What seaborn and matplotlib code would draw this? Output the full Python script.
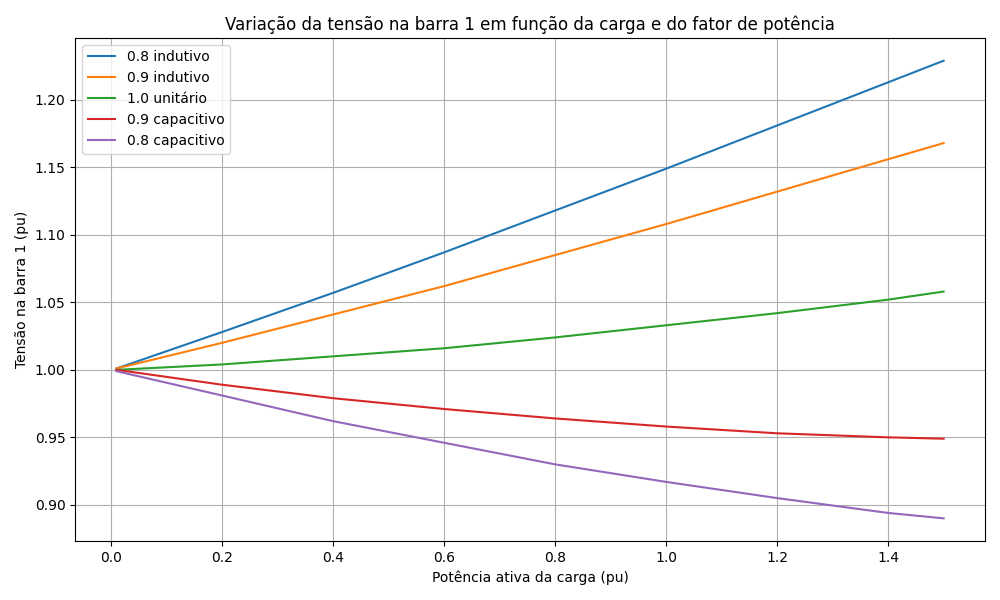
import pandas as pd
import matplotlib
matplotlib.use("Agg")
import matplotlib.pyplot as plt
import seaborn as sns

# values
carga = [0.01, 0.2, 0.4, 0.6, 0.8, 1.0, 1.2, 1.4, 1.5]
ind_08 = [1.001, 1.028, 1.057, 1.087, 1.118, 1.149, 1.181, 1.213, 1.229]
ind_09 = [1.001, 1.020, 1.041, 1.062, 1.085, 1.108, 1.132, 1.156, 1.168]
unit_10 = [1.000, 1.004, 1.010, 1.016, 1.024, 1.033, 1.042, 1.052, 1.058]
cap_09 = [1.000, 0.989, 0.979, 0.971, 0.964, 0.958, 0.953, 0.950, 0.949]
cap_08 = [0.999, 0.981, 0.962, 0.946, 0.930, 0.917, 0.905, 0.894, 0.890]

series = {
    "0.8 indutivo": ind_08,
    "0.9 indutivo": ind_09,
    "1.0 unitário": unit_10,
    "0.9 capacitivo": cap_09,
    "0.8 capacitivo": cap_08,
}

rows = []
for name, vals in series.items():
    for x, v in zip(carga, vals):
        rows.append({"P": x, "V": v, "fp": name})
df = pd.DataFrame(rows)

fig, ax = plt.subplots(figsize=(10, 6), dpi=100)
sns.lineplot(data=df, x="P", y="V", hue="fp", palette="tab10", ax=ax)
ax.legend(loc="upper left")
ax.grid(True)
ax.set_title("Variação da tensão na barra 1 em função da carga e do fator de potência")
ax.set_xlabel("Potência ativa da carga (pu)")
ax.set_ylabel("Tensão na barra 1 (pu)")

plt.tight_layout()
plt.savefig("out.png", dpi=100)
plt.close()
